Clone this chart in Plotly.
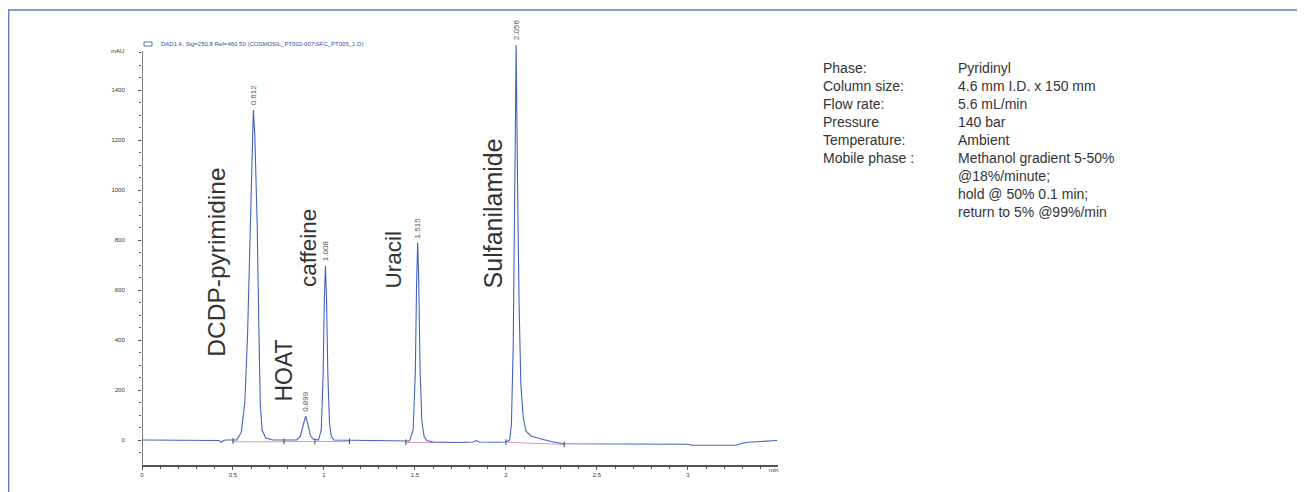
import plotly.graph_objects as go

# ---------------- data ----------------
time_min = [0.00, 0.40, 0.425, 0.435, 0.445, 0.46, 0.52, 0.545, 0.565, 0.58, 0.595, 0.605,
            0.612, 0.62, 0.633, 0.643, 0.65, 0.66, 0.68, 0.72, 0.80, 0.85, 0.87, 0.885,
            0.899, 0.912, 0.925, 0.94, 0.96, 0.97, 0.985, 0.995, 1.002, 1.008, 1.014, 1.021,
            1.03, 1.04, 1.055, 1.20, 1.40, 1.47, 1.49, 1.502, 1.509, 1.515, 1.521, 1.528,
            1.538, 1.55, 1.565, 1.60, 1.75, 1.82, 1.837, 1.855, 1.95, 2.00, 2.02, 2.03,
            2.04, 2.048, 2.056, 2.063, 2.072, 2.082, 2.095, 2.11, 2.14, 2.20, 2.26, 2.32,
            2.60, 3.00, 3.02, 3.26, 3.30, 3.33, 3.40, 3.47, 3.49]
signal_mau = [0, 0, -2, -10, -3, 0, 0, 30, 150, 420, 870, 1210,
              1320, 1220, 860, 420, 140, 40, 8, 0, 0, 0, 15, 62,
              95, 62, 18, 4, 0, 0, 40, 250, 560, 697, 570, 270,
              70, 15, 0, -2, -4, -4, 40, 270, 630, 789, 630, 280,
              75, 15, -2, -8, -10, -8, -2, -8, -9, -8, 0, 60,
              380, 980, 1580, 1070, 550, 220, 90, 35, 15, 3, -8, -15,
              -17, -17, -21, -21, -13, -9, -6, -2, -2]

# integration baselines (pink) and integration event marks
base_time = [0.50, 0.78, None, 0.78, 1.14, None, 1.45, 1.78, None, 2.01, 2.32]
base_mau = [-7, -7, None, -6, -6, None, -10, -10, None, -9, -18]
event_time = [0.50, 0.78, 0.95, 1.14, 1.45, 2.00, 2.32]
event_mau = [-4, -6, -6, -6, -9, -8, -18]

peak_rt = [0.612, 0.899, 1.008, 1.515, 2.056]
peak_height = [1320, 95, 697, 789, 1580]
peak_rt_labels = ["0.612", "0.899", "1.008", "1.515", "2.056"]

compound_names = ["DCDP-pyrimidine", "HOAT", "caffeine", "Uracil", "Sulfanilamide"]

y_ticks = [0, 200, 400, 600, 800, 1000, 1200, 1400]
x_ticks = [0, 0.5, 1, 1.5, 2, 2.5, 3]
x_tick_text = ["0", "0.5", "1", "1.5", "2", "2.5", "3"]

info_keys = ["Phase:", "Column size:", "Flow rate:", "Pressure", "Temperature:",
             "Mobile phase :", "", "", ""]
info_values = ["Pyridinyl", "4.6 mm I.D. x 150 mm", "5.6 mL/min", "140 bar", "Ambient",
               "Methanol gradient 5-50%", "@18%/minute;", "hold @ 50% 0.1 min;",
               "return to 5% @99%/min"]

signal_title = "DAD1 A, Sig=250,8 Ref=460,50 (COSMOSIL_PT002-007\\SFC_PT005_1.D)"

# ---------------- layout geometry ----------------
OFF = 8                      # page body margin
W, H = 1305 - OFF, 492 - OFF
Y_RANGE = [-100, 1620]
X_RANGE = [0, 3.495]
ML, MR, MB = 134, 527, 27
PW = W - ML - MR
PH = round((Y_RANGE[1] - Y_RANGE[0]) * 0.25)
MT = H - MB - PH
AXIS_TOP = 1556              # y-axis line stops here


def px(xr):
    """reference-pixel x -> paper x"""
    return (xr - OFF - ML) / PW


def py(yr):
    """reference-pixel y -> paper y"""
    return (H - MB - (yr - OFF)) / PH


# name label centres (data coords) and font sizes
name_pos = [(0.405, 712), (0.779, 277), (0.914, 769), (1.383, 721), (1.927, 905)]
name_size = [24.5, 23, 22.5, 22.5, 25]

fig = go.Figure()
fig.add_trace(go.Scatter(x=base_time, y=base_mau, mode="lines",
                         line=dict(color="#d27fc4", width=1.2), opacity=0.8,
                         hoverinfo="skip", showlegend=False))
fig.add_trace(go.Scatter(x=time_min, y=signal_mau, mode="lines",
                         line=dict(color="#4262c2", width=1.1),
                         showlegend=False))
fig.add_trace(go.Scatter(x=event_time, y=event_mau, mode="markers",
                         marker=dict(symbol="line-ns", size=4,
                                     line=dict(color="#444", width=1)),
                         hoverinfo="skip", showlegend=False))

annotations = []
font_main = "Arial, Liberation Sans, sans-serif"
for rt, h, lab in zip(peak_rt, peak_height, peak_rt_labels):
    annotations.append(dict(x=rt, y=h, xref="x", yref="y", text=lab, showarrow=False,
                            textangle=-90, xanchor="center", yanchor="middle",
                            yshift=15, font=dict(family=font_main, size=8, color="#555")))
for name, (nx, ny), fs in zip(compound_names, name_pos, name_size):
    annotations.append(dict(x=nx, y=ny, xref="x", yref="y", text=name, showarrow=False,
                            textangle=-90, xanchor="center", yanchor="middle",
                            font=dict(family=font_main, size=fs, color="#333")))

# info block
for i, (k, v) in enumerate(zip(info_keys, info_values)):
    yy = py(68 + 18 * i)
    if k:
        annotations.append(dict(x=px(821), y=yy, xref="paper", yref="paper", text=k,
                                showarrow=False, xanchor="left", yanchor="middle",
                                font=dict(family=font_main, size=14, color="#333")))
    annotations.append(dict(x=px(956), y=yy, xref="paper", yref="paper", text=v,
                            showarrow=False, xanchor="left", yanchor="middle",
                            font=dict(family=font_main, size=14, color="#333")))

# signal title, axis unit labels
annotations.append(dict(x=px(159), y=py(44), xref="paper", yref="paper", text=signal_title,
                        showarrow=False, xanchor="left", yanchor="middle",
                        font=dict(family=font_main, size=6, color="#3050a8")))
annotations.append(dict(x=px(126), y=py(51), xref="paper", yref="paper", text="mAU",
                        showarrow=False, xanchor="right", yanchor="middle",
                        font=dict(family=font_main, size=6, color="#333")))
annotations.append(dict(x=px(774), y=py(470), xref="paper", yref="paper", text="min",
                        showarrow=False, xanchor="center", yanchor="middle",
                        font=dict(family=font_main, size=6, color="#333")))

shapes = [
    # y-axis line
    dict(type="line", xref="x", yref="y", x0=0, x1=0, y0=Y_RANGE[0], y1=AXIS_TOP,
         line=dict(color="#555", width=1.5), layer="above"),
    # legend swatch
    dict(type="rect", xref="paper", yref="paper", x0=px(144), x1=px(152), y0=py(46), y1=py(42),
         line=dict(color="#3050a8", width=0.8), fillcolor="rgba(0,0,0,0)"),
    # outer frame
    dict(type="rect", xref="paper", yref="paper", x0=px(8.6), x1=px(1300), y0=py(500), y1=py(10),
         line=dict(color="#5a7fc0", width=1.6), fillcolor="rgba(0,0,0,0)", layer="below"),
]

fig.update_layout(
    width=W, height=H,
    margin=dict(l=ML, r=MR, t=MT, b=MB),
    paper_bgcolor="white", plot_bgcolor="white",
    annotations=annotations, shapes=shapes,
    font=dict(family=font_main, size=6, color="#333"),
    xaxis=dict(range=X_RANGE, showgrid=False, zeroline=False, showline=True,
               linecolor="#555", linewidth=1.5, ticks="outside", ticklen=3,
               tickcolor="#555", tickvals=x_ticks, ticktext=x_tick_text,
               tickfont=dict(size=6, color="#333"),
               minor=dict(dtick=0.1, ticks="outside", ticklen=2, tickcolor="#555")),
    yaxis=dict(range=Y_RANGE, showgrid=False, zeroline=False, showline=False,
               ticks="outside", ticklen=3, tickcolor="#555", tickvals=y_ticks,
               tickfont=dict(size=6, color="#333"), ticklabelstandoff=12,
               minor=dict(tickvals=[v for v in range(-50, 1551, 50)], ticks="outside",
                          ticklen=2, tickcolor="#555")),
)

fig.write_html("out.html")
